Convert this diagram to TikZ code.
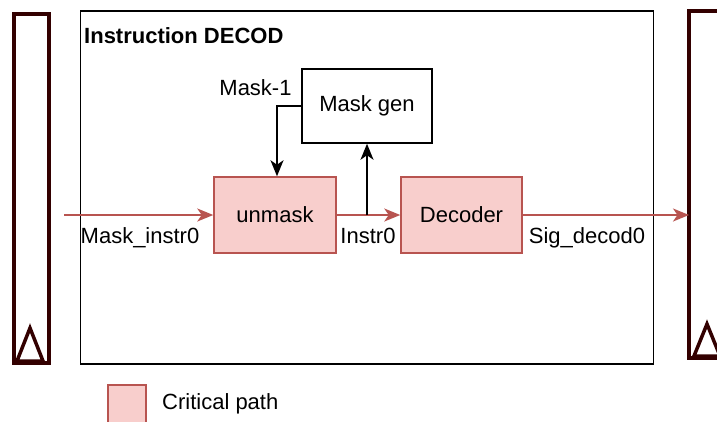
\documentclass[tikz,border=0pt]{standalone}
\usepackage{fontspec}
\setmainfont{Liberation Sans}
\usetikzlibrary{arrows.meta}
\definecolor{critline}{HTML}{B85450}
\definecolor{critfill}{HTML}{F8CECC}
\definecolor{regline}{HTML}{330000}
\tikzset{
  crit/.style={draw=critline, fill=critfill, line width=1.5pt},
  plainbox/.style={draw=black, fill=white, line width=1.5pt},
  reg/.style={draw=regline, line width=3.5pt},
  critarrow/.style={draw=critline, line width=2pt, -{Stealth[length=16pt,width=13pt,inset=4.5pt]}},
  blkarrow/.style={draw=black, line width=2pt, -{Stealth[length=16pt,width=13pt,inset=4.5pt]}},
  lbl/.style={anchor=base, inner sep=0pt},
}
\begin{document}
\begin{tikzpicture}[x=1pt,y=-1pt,every node/.style={font=\fontsize{22}{26}\selectfont}]
\useasboundingbox[fill=white] (0,0) rectangle (717,421);
% registers
\draw[reg] (14,14) rectangle (49,363);
\draw[reg] (30,328) -- (17,361) -- (43,361) -- cycle;
\draw[reg] (689,11) rectangle (740,358);
\draw[reg] (707,324) -- (694,356) -- (720,356) -- cycle;
% main block
\node[plainbox, minimum width=573pt, minimum height=353pt, anchor=north west, inner sep=0pt] (decod) at (79.5,10) {};
\node[lbl, anchor=base west, font=\fontsize{22}{26}\selectfont\bfseries] (title) at (84,43) {Instruction DECOD};
% boxes
\node[plainbox, minimum width=130pt, minimum height=74pt, inner sep=0pt] (maskgen) at (367,106) {Mask gen};
\node[crit, minimum width=122pt, minimum height=76pt, inner sep=0pt] (unmask) at (275,215) {unmask};
\node[crit, minimum width=121pt, minimum height=76pt, inner sep=0pt] (decoder) at (461.5,215) {Decoder};
% coordinates
\coordinate (in) at (64,215);
\coordinate (out) at (689,215);
\coordinate (br) at (367,215);
\coordinate (turn) at (277,106);
% connectors
\draw[critarrow] (in) -- (unmask.west);
\draw[critarrow] (unmask.east) -- (decoder.west);
\draw[critarrow] (decoder.east) -- (out);
\draw[blkarrow] (br) -- (maskgen.south);
\draw[blkarrow] (maskgen.west) -- (turn) -- (unmask.north -| turn);
% labels
\node[lbl] (l1) at (140,243) {Mask\_instr0};
\node[lbl] (l2) at (368,243) {Instr0};
\node[lbl] (l3) at (587,243) {Sig\_decod0};
\node[lbl] (l4) at (255.5,95) {Mask-1};
% legend
\node[crit, minimum width=38pt, minimum height=40pt, inner sep=0pt, anchor=north west] (leg) at (107,384) {};
\node[lbl, anchor=base west] (legtxt) at (162,409) {Critical path};
\end{tikzpicture}
\end{document}
